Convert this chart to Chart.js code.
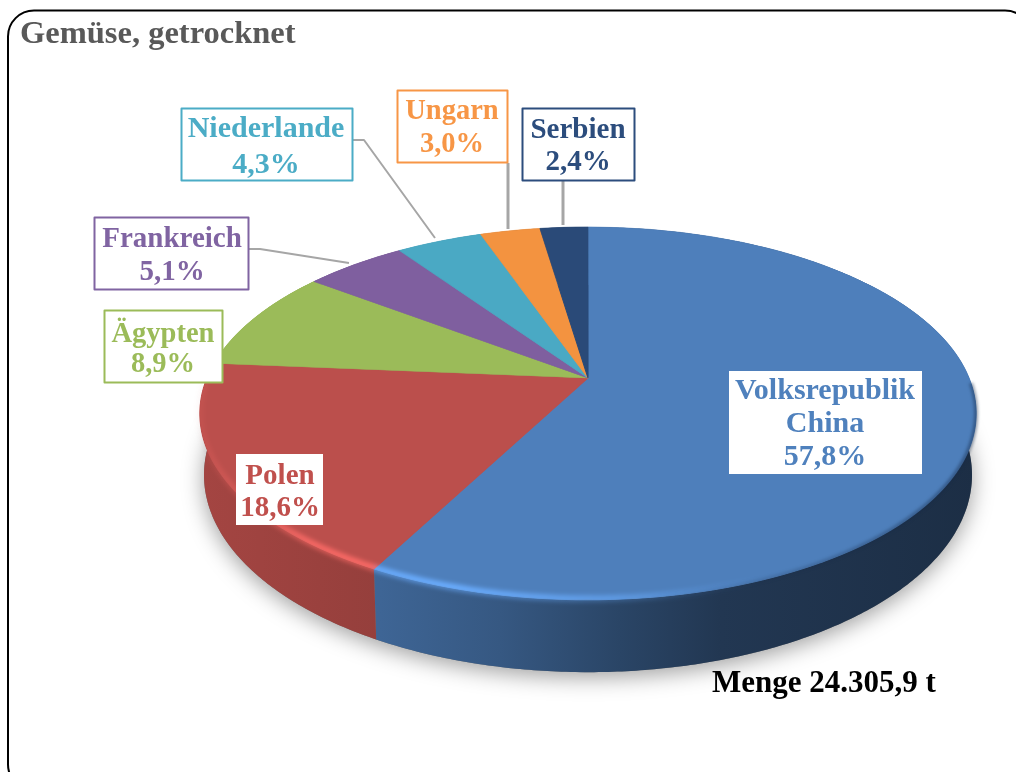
<!DOCTYPE html>
<html><head><meta charset="utf-8">
<script src="https://cdn.jsdelivr.net/npm/chart.js@4"></script>
<style>html,body{margin:0;padding:0;background:#fff;overflow:hidden}canvas{display:block}</style>
</head><body><canvas id="c" width="1016" height="772" style="width:1016px;height:772px"></canvas>
<script>
const categories = ['Volksrepublik China','Polen','Ägypten','Frankreich','Niederlande','Ungarn','Serbien'];
const shares = [57.8,18.6,8.9,5.1,4.3,3.0,2.4];
const sliceColors = ['#4e7fbb','#bb4f4c','#9bbb59','#7f5f9f','#4aa9c4','#f39340','#2a4a78'];
const textColors = ['#4f81bd','#c0504d','#9bbb59','#8064a2','#4bacc6','#f79646','#2c4d7d'];
const chartTitle = 'Gemüse, getrocknet';
const totalNote = 'Menge 24.305,9 t';

const FONT = '"Liberation Serif"';
const TOP = {cx:588,y0:378,rx:381,b:179.7,k:-0.19};
const BASE = {cx:588,y0:437.6,rx:377,b:190,k:-0.19};
const LABELS = [
 {box:[729,371,193,103],lines:[399,432,465],split:true,border:false,cx:825,size:30},
 {box:[236,454,87,71],lines:[484,516],border:false,cx:280,size:29},
 {box:[104,310,119,73],lines:[342,372],border:true,cx:163,size:28.5},
 {box:[94,217,155,73],lines:[247,280],border:true,cx:172,size:29},
 {box:[181,108,172,73],lines:[137,173],border:true,cx:266,size:30},
 {box:[397,90,111,73],lines:[119,152],border:true,cx:452,size:28.5},
 {box:[522,108,113,73],lines:[138,170],border:true,cx:578,size:29}
];
const LEADERS = [
 {w:2,pts:[[353,140],[364,140],[435,238]]},
 {w:2,pts:[[249,249],[260,249],[349,263]]},
 {w:3,pts:[[508,163],[508,229]]},
 {w:3,pts:[[563,181],[563,225]]}
];

function rim(t,p){const u=Math.cos(t),v=Math.sin(t),w=1+p.k*v;return [p.cx+p.rx*u/w,p.y0+p.b*v/w];}
function ringPath(ctx,a0,a1,p,move){
  const n=Math.max(2,Math.ceil(Math.abs(a1-a0)/0.01));
  for(let i=0;i<=n;i++){const q=rim(a0+(a1-a0)*i/n,p);(i===0&&move)?ctx.moveTo(q[0],q[1]):ctx.lineTo(q[0],q[1]);}
}
function scaleHex(h,f){const n=parseInt(h.slice(1),16);return `rgb(${(n>>16&255)*f|0},${(n>>8&255)*f|0},${(n&255)*f|0})`;}
const sideStops=[[200,.88],[380,.8],[500,.7],[620,.55],[720,.44],[977,.37]];
const hiStops=[[200,.04],[250,.14],[310,.3],[450,.35],[620,.2],[760,0]];

const pie3d={id:'pie3d',
 beforeDatasetsDraw(chart){
  const ctx=chart.ctx, arcs=chart.getDatasetMeta(0).data;
  // ground shadow
  ctx.save();
  ctx.shadowColor='rgba(0,0,0,.38)';ctx.shadowBlur=22;ctx.shadowOffsetY=5;
  ctx.fillStyle='#777';ctx.beginPath();ringPath(ctx,0,Math.PI*2,BASE,true);ctx.closePath();ctx.fill();
  ctx.restore();
  // side walls
  arcs.forEach((a,i)=>{
   const g=ctx.createLinearGradient(200,0,977,0);
   sideStops.forEach(s=>g.addColorStop((s[0]-200)/777,scaleHex(sliceColors[i],s[1])));
   ctx.fillStyle=g;ctx.beginPath();
   ringPath(ctx,a.startAngle,a.endAngle,TOP,true);
   ringPath(ctx,a.endAngle,a.startAngle,BASE,false);
   ctx.closePath();ctx.fill();
  });
  // top face, perspective by rows
  const a0=arcs[0],R=a0.outerRadius,tp=TOP;
  for(let Y=220;Y<610;Y++){
   const d=Y+.5-tp.y0,v=d/(tp.b-tp.k*d),w=1+tp.k*v;
   if(Math.abs(v)>1.02)continue;
   const sx=tp.rx/(w*R),sy=tp.b/(w*w)/R,yr=a0.y+v*R;
   ctx.save();ctx.beginPath();ctx.rect(0,Y,1016,1);ctx.clip();
   ctx.setTransform(sx,0,0,sy,tp.cx-sx*a0.x,Y+.5-sy*yr);
   arcs.forEach(a=>a.draw(ctx));
   ctx.restore();
  }
  // rim highlight
  arcs.forEach((a,i)=>{
   const n=Math.ceil((a.endAngle-a.startAngle)/.01);const pts=[];
   for(let j=0;j<=n;j++){const t=a.startAngle+(a.endAngle-a.startAngle)*j/n;if(Math.sin(t)>.02)pts.push(rim(t,TOP));}
   if(pts.length<2)return;
   const nn=parseInt(sliceColors[i].slice(1),16),c=`${nn>>16&255},${nn>>8&255},${nn&255}`;
   ctx.save();ctx.filter='blur(2px)';ctx.globalCompositeOperation='lighter';
   const g=ctx.createLinearGradient(200,0,977,0);
   hiStops.forEach(s=>g.addColorStop((s[0]-200)/777,`rgba(${c},${s[1]})`));
   g.addColorStop(1,`rgba(${c},0)`);
   ctx.strokeStyle=g;ctx.lineWidth=7;ctx.beginPath();pts.forEach((q,j)=>j?ctx.lineTo(q[0],q[1]-1):ctx.moveTo(q[0],q[1]-1));ctx.stroke();
   ctx.restore();
   if(i===0){
    ctx.save();ctx.filter='blur(1.5px)';
    const d=ctx.createLinearGradient(650,0,977,0);d.addColorStop(0,'rgba(20,40,70,0)');d.addColorStop(1,'rgba(20,40,70,.45)');
    ctx.strokeStyle=d;ctx.lineWidth=4;ctx.beginPath();pts.forEach((q,j)=>j?ctx.lineTo(q[0],q[1]):ctx.moveTo(q[0],q[1]));ctx.stroke();
    ctx.restore();
   }
  });
  return false;
 },
 afterDraw(chart){
  const ctx=chart.ctx;
  ctx.save();
  // frame
  ctx.strokeStyle='#000';ctx.lineWidth=2;ctx.beginPath();ctx.roundRect(8,10.5,1023,780,26);ctx.stroke();
  // leaders
  ctx.strokeStyle='#a6a6a6';ctx.lineJoin='round';
  LEADERS.forEach(l=>{ctx.lineWidth=l.w;ctx.beginPath();l.pts.forEach((q,i)=>i?ctx.lineTo(q[0],q[1]):ctx.moveTo(q[0],q[1]));ctx.stroke();});
  // labels
  ctx.textAlign='center';ctx.textBaseline='alphabetic';
  LABELS.forEach((l,i)=>{
   const b=l.box;
   ctx.font=`bold ${l.size}px ${FONT}`;
   ctx.fillStyle='#fff';ctx.fillRect(b[0],b[1],b[2],b[3]);
   if(l.border){ctx.strokeStyle=textColors[i];ctx.lineWidth=2;ctx.strokeRect(b[0]+.5,b[1]+.5,b[2]-1,b[3]-1);}
   const lines=(l.split?categories[i].split(' '):[categories[i]]).concat([shares[i].toFixed(1).replace('.',',')+'%']);
   ctx.fillStyle=textColors[i];
   lines.forEach((s,j)=>ctx.fillText(s,l.cx,l.lines[j]));
  });
  ctx.font=`bold 31px ${FONT}`;
  ctx.fillStyle='#000';ctx.textAlign='left';ctx.fillText(totalNote,712,692);
  ctx.restore();
 }
};

new Chart(document.getElementById('c'),{
 type:'pie',
 data:{labels:categories,datasets:[{data:shares,backgroundColor:sliceColors,borderColor:sliceColors,borderWidth:1}]},
 options:{responsive:false,animation:false,events:[],
  layout:{padding:{left:20,top:15,right:20,bottom:20}},
  plugins:{legend:{display:false},tooltip:{enabled:false},
   title:{display:true,text:chartTitle,align:'start',color:'#595959',font:{family:'Liberation Serif',size:32.5,weight:'bold'},padding:{top:0,bottom:10}}}
 },
 plugins:[pie3d]
});
</script></body></html>
